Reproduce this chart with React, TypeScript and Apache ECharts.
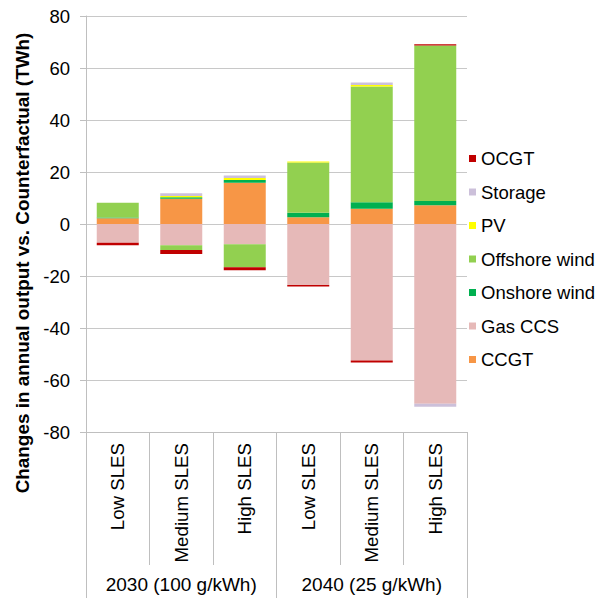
import React, { useEffect, useRef } from "react";
import * as echarts from "echarts";

const categories = ["Low SLES", "Medium SLES", "High SLES", "Low SLES", "Medium SLES", "High SLES"];
const groups = ["2030 (100 g/kWh)", "2040 (25 g/kWh)"];
const yTicks = { min: -80, max: 80, interval: 20 };

const ccgt = [2.2, 9.7, 15.9, 2.6, 5.9, 7.2];
const gasCcs = [-7.2, -8.2, -7.8, -23.5, -52.5, -69.1];
const onshore = [0.3, 0.6, 1.0, 1.7, 2.5, 1.6];
const offshore = [5.7, -1.8, -8.8, 19.4, 44.5, 59.9];
const pv = [0, 0.5, 0.8, 0.3, 0.6, 0];
const storage = [0, 1.0, 1.0, 0, 0.9, -1.2];
const ocgt = [-1.0, -1.5, -1.2, -0.5, -0.8, 0.4];

const seriesDefs = [
  { name: "CCGT", data: ccgt, color: "#F79646" },
  { name: "Gas CCS", data: gasCcs, color: "#E6B9B8" },
  { name: "Onshore wind", data: onshore, color: "#00B050" },
  { name: "Offshore wind", data: offshore, color: "#92D050" },
  { name: "PV", data: pv, color: "#FFFF00" },
  { name: "Storage", data: storage, color: "#CCC0DA" },
  { name: "OCGT", data: ocgt, color: "#C00000" },
];
const legendOrder = ["OCGT", "Storage", "PV", "Offshore wind", "Onshore wind", "Gas CCS", "CCGT"];

const FONT = "Liberation Sans, Arial, sans-serif";

export default function App() {
  const ref = useRef<HTMLDivElement>(null);
  useEffect(() => {
    if (!ref.current) return;
    const chart = echarts.init(ref.current, null, { renderer: "svg" });
    chart.setOption({
      animation: false,
      backgroundColor: "#ffffff",
      textStyle: { fontFamily: FONT },
      grid: { left: 86, right: 134, top: 16, bottom: 167, containLabel: false },
      legend: {
        data: legendOrder,
        orient: "vertical",
        left: 464,
        top: 144,
        itemWidth: 7,
        itemHeight: 7,
        itemGap: 14.5,
        icon: "rect",
        textStyle: { fontSize: 18.5, color: "#000", fontFamily: FONT },
      },
      xAxis: [
        {
          type: "category",
          data: categories,
          position: "bottom",
          axisLine: { show: true, onZero: false, lineStyle: { color: "#BFBFBF" } },
          axisTick: { show: true, length: 133, interval: 0, lineStyle: { color: "#BFBFBF" } },
          axisLabel: { rotate: 90, margin: 11, interval: 0, fontSize: 18.7, color: "#000", fontFamily: FONT },
        },
        {
          type: "category",
          data: groups,
          position: "bottom",
          axisLine: { show: false, onZero: false },
          axisTick: { show: true, length: 166, interval: 0, lineStyle: { color: "#BFBFBF" } },
          axisLabel: { margin: 143, interval: 0, fontSize: 19, color: "#000", fontFamily: FONT },
        },
      ],
      yAxis: {
        type: "value",
        min: yTicks.min,
        max: yTicks.max,
        interval: yTicks.interval,
        axisLine: { show: true, lineStyle: { color: "#BFBFBF" } },
        axisTick: { show: true, length: 6, lineStyle: { color: "#BFBFBF" } },
        axisLabel: { fontSize: 18.5, color: "#000", margin: 16, fontFamily: FONT },
        splitLine: { show: true, lineStyle: { color: "#C8C8C8", width: 1 } },
      },
      graphic: [
        {
          type: "text",
          x: 22,
          y: 263,
          rotation: Math.PI / 2,
          style: {
            text: "Changes in annual output vs. Counterfactual (TWh)",
            fontSize: 18.9,
            fontWeight: "bold",
            fontFamily: FONT,
            fill: "#000",
            textAlign: "center",
            textVerticalAlign: "middle",
          },
        },
      ],
      series: seriesDefs.map((s) => ({
        name: s.name,
        type: "bar",
        stack: "total",
        xAxisIndex: 0,
        barWidth: 42,
        data: s.data,
        itemStyle: { color: s.color },
      })),
    });
    return () => chart.dispose();
  }, []);
  return <div ref={ref} style={{ position: "fixed", left: 0, top: 0, width: 601, height: 599 }} />;
}
